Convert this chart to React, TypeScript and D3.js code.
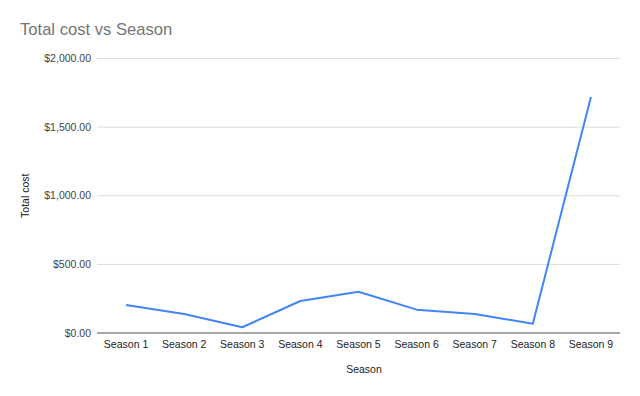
import * as d3 from "d3"

const seasons = ["Season 1", "Season 2", "Season 3", "Season 4", "Season 5", "Season 6", "Season 7", "Season 8", "Season 9"]
const totalCost = [204, 138, 42, 233, 301, 170, 138, 68, 1719]
const yTicks = [0, 500, 1000, 1500, 2000]

const W = 640
const H = 396
const margin = { top: 58.5, right: 20, bottom: 63, left: 97 }
const font = "Arial, 'Liberation Sans', sans-serif"

export default function App() {
  const x = d3
    .scalePoint<string>()
    .domain(seasons)
    .range([margin.left, W - margin.right])
    .padding(0.5)
  const y = d3
    .scaleLinear()
    .domain([0, 2000])
    .range([H - margin.bottom, margin.top])

  const fmt = (v: number) => "$" + d3.format(",.2f")(v)
  const line = d3
    .line<number>()
    .x((_, i) => x(seasons[i]) ?? 0)
    .y((d) => y(d))

  return (
    <svg width={W} height={H} style={{ position: "absolute", left: 0, top: 0, background: "#fff" }}>
      <text x={20} y={35} fontSize={16.6} fill="#757575" fontFamily={font}>
        Total cost vs Season
      </text>
      {yTicks.map((t) => (
        <g key={t}>
          {t > 0 && (
            <line x1={margin.left} x2={W - margin.right} y1={y(t)} y2={y(t)} stroke="#dcdcdc" strokeWidth={1} />
          )}
          <text
            x={margin.left - 6}
            y={y(t)}
            dy="0.35em"
            textAnchor="end"
            fontSize={10.5}
            fill="#444"
            fontFamily={font}
          >
            {fmt(t)}
          </text>
        </g>
      ))}
      <line
        x1={margin.left}
        x2={W - margin.right}
        y1={y(0)}
        y2={y(0)}
        stroke="#8a8a8a"
        strokeWidth={1.5}
      />
      {seasons.map((s) => (
        <text
          key={s}
          x={x(s)}
          y={y(0) + 15}
          textAnchor="middle"
          fontSize={10.5}
          fill="#222"
          fontFamily={font}
        >
          {s}
        </text>
      ))}
      <path d={line(totalCost) ?? ""} fill="none" stroke="#4285f4" strokeWidth={2} strokeLinejoin="round" />
      <text x={364} y={373} textAnchor="middle" fontSize={10.5} fill="#222" fontFamily={font}>
        Season
      </text>
      <text
        transform={`translate(29,${(y(0) + y(2000)) / 2}) rotate(-90)`}
        textAnchor="middle"
        fontSize={10.5}
        fill="#222"
        fontFamily={font}
      >
        Total cost
      </text>
    </svg>
  )
}
